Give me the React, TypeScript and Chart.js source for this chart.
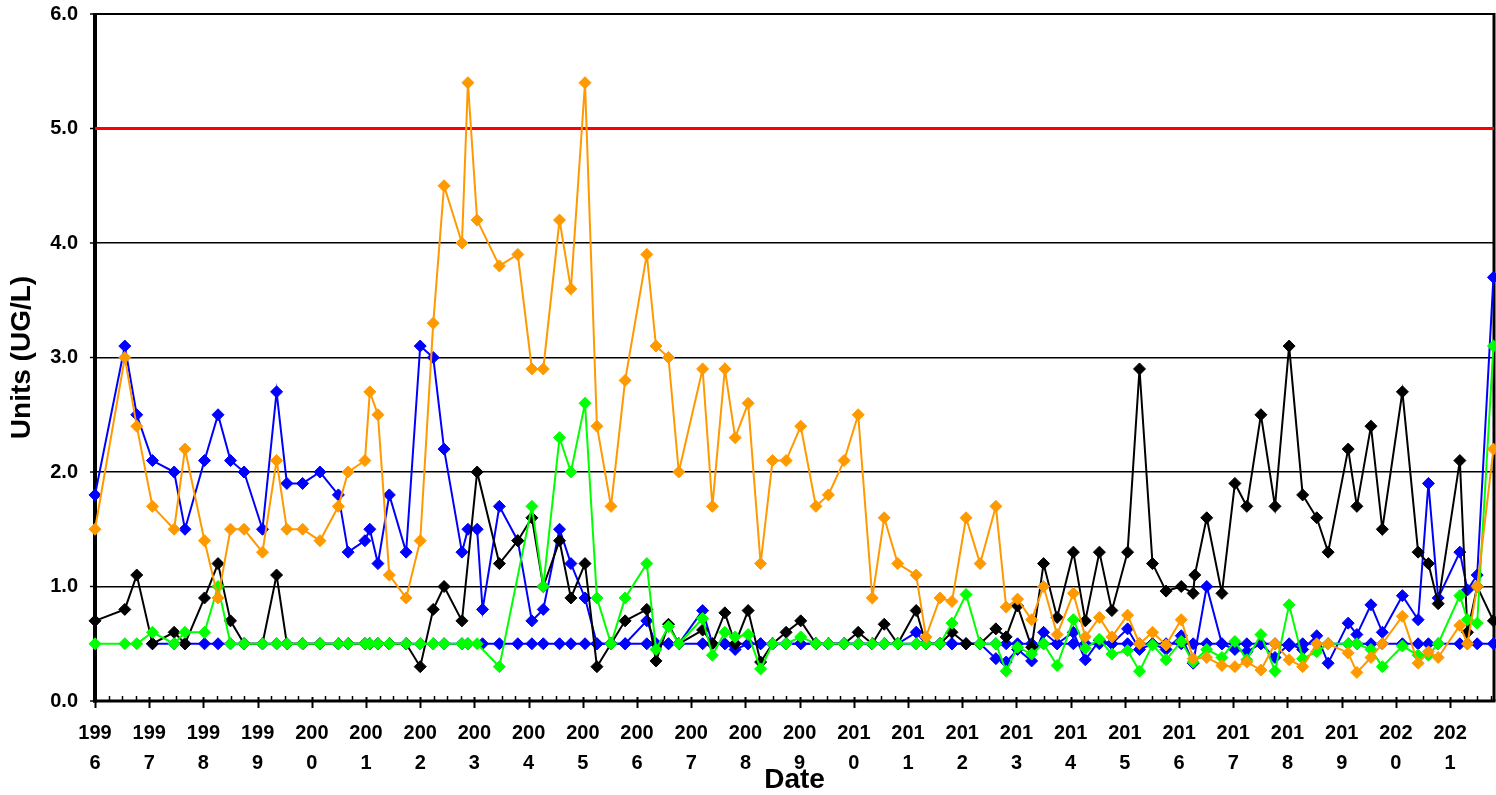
import React, { useEffect, useRef } from "react";
import { Chart, registerables } from "chart.js";

Chart.register(...registerables);

// Sample dates (decimal years)
const dates: number[] = [
  1996.0, 1996.55, 1996.77, 1997.06, 1997.46, 1997.66, 1998.02, 1998.27, 1998.5, 1998.75,
  1999.09, 1999.35, 1999.54, 1999.83, 2000.15, 2000.49, 2000.67, 2000.98, 2001.07, 2001.22,
  2001.43, 2001.74, 2002.0, 2002.24, 2002.44, 2002.77, 2002.88, 2003.05, 2003.15, 2003.46,
  2003.8, 2004.06, 2004.27, 2004.57, 2004.78, 2005.04, 2005.26, 2005.52, 2005.78, 2006.18,
  2006.35, 2006.58, 2006.77, 2007.21, 2007.39, 2007.62, 2007.81, 2008.05, 2008.28, 2008.5,
  2008.75, 2009.02, 2009.3, 2009.53, 2009.82, 2010.08, 2010.34, 2010.56, 2010.81, 2011.15,
  2011.33, 2011.59, 2011.81, 2012.07, 2012.33, 2012.62, 2012.81, 2013.02, 2013.28, 2013.5,
  2013.75, 2014.05, 2014.27, 2014.53, 2014.76, 2015.05, 2015.27, 2015.51, 2015.76, 2016.04,
  2016.26, 2016.29, 2016.51, 2016.79, 2017.03, 2017.25, 2017.51, 2017.77, 2018.03, 2018.28,
  2018.54, 2018.75, 2019.12, 2019.28, 2019.54, 2019.75, 2020.12, 2020.41, 2020.6, 2020.78,
  2021.18, 2021.32, 2021.5, 2021.8,
];

const blueA: (number | null)[] = [
  1.8, 3.1, 2.5, 2.1, 2.0, 1.5, 2.1, 2.5, 2.1, 2.0,
  1.5, 2.7, 1.9, 1.9, 2.0, 1.8, 1.3, 1.4, 1.5, 1.2,
  1.8, 1.3, 3.1, 3.0, 2.2, 1.3, 1.5, 1.5, 0.8, 1.7,
  1.4, 0.7, 0.8, 1.5, 1.2, 0.9, 0.5, 0.5, 0.5, 0.7,
  0.5, 0.5, 0.5, 0.79, 0.5, 0.5, 0.45, 0.5, 0.5, 0.5,
  0.5, 0.5, 0.5, 0.5, 0.5, 0.5, 0.5, 0.5, 0.5, 0.6,
  0.5, 0.5, 0.5, 0.5, 0.5, 0.37, 0.34, 0.45, 0.35, 0.6,
  0.5, 0.6, 0.36, 0.53, 0.5, 0.63, 0.45, 0.5, 0.45, 0.57,
  0.33, null, 1.0, 0.5, 0.45, 0.43, 0.5, 0.38, 0.5, 0.45,
  0.57, 0.33, 0.68, 0.58, 0.84, 0.6, 0.92, 0.71, 1.9, 0.9,
  1.3, 0.97, 1.1, 3.7,
];

const blueB: (number | null)[] = [
  null, null, null, 0.5, 0.5, 0.5, 0.5, 0.5, 0.5, 0.5,
  0.5, 0.5, 0.5, 0.5, 0.5, 0.5, 0.5, 0.5, 0.5, 0.5,
  0.5, 0.5, 0.5, 0.5, 0.5, 0.5, 0.5, null, 0.5, 0.5,
  0.5, 0.5, 0.5, 0.5, 0.5, 0.5, 0.5, 0.5, 0.5, 0.5,
  0.5, 0.5, 0.5, 0.5, 0.5, 0.5, 0.5, 0.5, 0.5, 0.5,
  0.5, 0.5, 0.5, 0.5, 0.5, 0.5, 0.5, 0.5, 0.5, 0.5,
  0.5, 0.5, 0.5, 0.5, 0.5, 0.5, 0.5, 0.5, 0.5, 0.5,
  0.5, 0.5, 0.5, 0.5, 0.5, 0.5, 0.5, 0.5, 0.5, 0.5,
  0.5, null, 0.5, 0.5, 0.5, 0.5, 0.5, 0.5, 0.48, 0.5,
  0.5, 0.5, 0.5, 0.5, 0.5, 0.5, 0.5, 0.5, 0.5, 0.5,
  0.5, 0.5, 0.5, 0.5,
];

const orange: (number | null)[] = [
  1.5, 3.0, 2.4, 1.7, 1.5, 2.2, 1.4, 0.9, 1.5, 1.5,
  1.3, 2.1, 1.5, 1.5, 1.4, 1.7, 2.0, 2.1, 2.7, 2.5,
  1.1, 0.9, 1.4, 3.3, 4.5, 4.0, 5.4, 4.2, null, 3.8,
  3.9, 2.9, 2.9, 4.2, 3.6, 5.4, 2.4, 1.7, 2.8, 3.9,
  3.1, 3.0, 2.0, 2.9, 1.7, 2.9, 2.3, 2.6, 1.2, 2.1,
  2.1, 2.4, 1.7, 1.8, 2.1, 2.5, 0.9, 1.6, 1.2, 1.1,
  0.56, 0.9, 0.87, 1.6, 1.2, 1.7, 0.82, 0.89, 0.71, 1.0,
  0.58, 0.94, 0.56, 0.73, 0.56, 0.75, 0.5, 0.6, 0.49, 0.71,
  0.37, null, 0.38, 0.31, 0.3, 0.34, 0.27, 0.5, 0.36, 0.3,
  0.5, 0.5, 0.42, 0.25, 0.38, 0.5, 0.74, 0.33, 0.43, 0.38,
  0.66, 0.5, 1.0, 2.2,
];

const black: (number | null)[] = [
  0.7, 0.8, 1.1, 0.5, 0.6, 0.5, 0.9, 1.2, 0.7, 0.5,
  0.5, 1.1, 0.5, 0.5, 0.5, 0.5, 0.5, 0.5, 0.5, 0.5,
  0.5, 0.5, 0.3, 0.8, 1.0, 0.7, null, 2.0, null, 1.2,
  1.4, 1.6, 1.0, 1.4, 0.9, 1.2, 0.3, 0.5, 0.7, 0.8,
  0.35, 0.67, 0.5, 0.62, 0.5, 0.77, 0.5, 0.79, 0.34, 0.5,
  0.6, 0.7, 0.5, 0.5, 0.5, 0.6, 0.5, 0.67, 0.5, 0.79,
  0.5, 0.5, 0.6, 0.5, 0.5, 0.63, 0.56, 0.83, 0.47, 1.2,
  0.73, 1.3, 0.7, 1.3, 0.79, 1.3, 2.9, 1.2, 0.96, 1.0,
  0.94, 1.1, 1.6, 0.94, 1.9, 1.7, 2.5, 1.7, 3.1, 1.8,
  1.6, 1.3, 2.2, 1.7, 2.4, 1.5, 2.7, 1.3, 1.2, 0.85,
  2.1, 0.6, 1.0, 0.7,
];

const green: (number | null)[] = [
  0.5, 0.5, 0.5, 0.6, 0.5, 0.6, 0.6, 1.0, 0.5, 0.5,
  0.5, 0.5, 0.5, 0.5, 0.5, 0.5, 0.5, 0.5, 0.5, 0.5,
  0.5, 0.5, 0.5, 0.5, 0.5, 0.5, 0.5, 0.5, null, 0.3,
  null, 1.7, 1.0, 2.3, 2.0, 2.6, 0.9, 0.5, 0.9, 1.2,
  0.45, 0.65, 0.5, 0.72, 0.4, 0.6, 0.56, 0.58, 0.28, 0.5,
  0.5, 0.56, 0.5, 0.5, 0.5, 0.5, 0.5, 0.5, 0.5, 0.5,
  0.5, 0.5, 0.68, 0.93, 0.5, 0.5, 0.26, 0.47, 0.41, 0.5,
  0.31, 0.71, 0.46, 0.54, 0.41, 0.44, 0.26, 0.49, 0.36, 0.52,
  0.34, null, 0.45, 0.38, 0.52, 0.36, 0.58, 0.26, 0.84, 0.37,
  0.43, 0.5, 0.5, 0.5, 0.45, 0.3, 0.48, 0.4, 0.4, 0.5,
  0.92, 0.71, 0.68, 3.1,
];

const limitValue = 5.0;
const xMin = 1996;
const xMax = 2021.81;
const yMin = 0;
const yMax = 6;

const FONT = "'Liberation Sans', Arial, Helvetica, sans-serif";

function pts(vals: (number | null)[]) {
  const out: { x: number; y: number }[] = [];
  vals.forEach((v, i) => {
    if (v !== null && v !== undefined) out.push({ x: dates[i], y: v });
  });
  return out;
}

const framePlugin = {
  id: "frame",
  beforeDatasetsDraw(chart: any) {
    const { ctx, chartArea } = chart;
    const { left, right, top, bottom } = chartArea;
    const xs = chart.scales.x;
    const ys = chart.scales.y;
    ctx.save();
    ctx.strokeStyle = "#000";
    // x ticks: quarterly minor, yearly major
    for (let q = xMin * 4; q <= xMax * 4; q++) {
      const px = Math.round(xs.getPixelForValue(q / 4)) + 0.5;
      ctx.beginPath();
      if (q % 4 === 0) {
        ctx.lineWidth = 2;
        ctx.moveTo(px, bottom - 4);
        ctx.lineTo(px, bottom + 7);
      } else {
        ctx.lineWidth = 1.5;
        ctx.moveTo(px, bottom - 5);
        ctx.lineTo(px, bottom);
      }
      ctx.stroke();
    }
    // y ticks outward
    for (let v = yMin; v <= yMax; v++) {
      const py = ys.getPixelForValue(v);
      ctx.beginPath();
      ctx.lineWidth = 1.5;
      ctx.moveTo(left - 5, py);
      ctx.lineTo(left, py);
      ctx.stroke();
    }
    // frame
    ctx.lineWidth = 2;
    ctx.beginPath();
    ctx.moveTo(left, top);
    ctx.lineTo(right, top);
    ctx.stroke();
    ctx.lineWidth = 3;
    ctx.beginPath();
    ctx.moveTo(right, top - 1);
    ctx.lineTo(right, bottom);
    ctx.stroke();
    ctx.beginPath();
    ctx.moveTo(left - 2, bottom);
    ctx.lineTo(right + 1.5, bottom);
    ctx.stroke();
    ctx.lineWidth = 4;
    ctx.beginPath();
    ctx.moveTo(left, top - 1);
    ctx.lineTo(left, bottom + 1.5);
    ctx.stroke();
    ctx.restore();
  },
};

function series(label: string, color: string, vals: (number | null)[]) {
  return {
    label,
    data: pts(vals),
    borderColor: color,
    backgroundColor: color,
    borderWidth: 2,
    pointStyle: "rectRot",
    pointRadius: 6,
    pointBorderWidth: 1,
    pointBorderColor: color,
    pointBackgroundColor: color,
    clip: false,
    tension: 0,
  };
}

export default function App() {
  const canvasRef = useRef<HTMLCanvasElement | null>(null);

  useEffect(() => {
    if (!canvasRef.current) return;
    const chart = new Chart(canvasRef.current, {
      type: "line",
      data: {
        datasets: [
          series("Orange", "#FF9900", orange),
          series("Green", "#00FF00", green),
          series("Black", "#000000", black),
          series("Blue A", "#0000FF", blueA),
          series("Blue B", "#0000FF", blueB),
          {
            label: "Limit",
            data: [
              { x: xMin, y: limitValue },
              { x: xMax, y: limitValue },
            ],
            borderColor: "#FF0000",
            backgroundColor: "#FF0000",
            borderWidth: 3,
            pointRadius: 0,
            clip: false,
          } as any,
        ],
      },
      options: {
        animation: false,
        responsive: false,
        maintainAspectRatio: false,
        devicePixelRatio: 1,
        layout: { autoPadding: false, padding: { left: 0, top: 14, right: 2, bottom: 0 } },
        plugins: {
          legend: { display: false },
          tooltip: { enabled: false },
        },
        scales: {
          x: {
            type: "linear",
            min: xMin,
            max: xMax,
            afterFit: (s: any) => {
              s.height = 94;
              s.paddingLeft = 0;
              s.paddingRight = 0;
            },
            grid: { display: false, drawTicks: false },
            border: { display: false },
            ticks: {
              stepSize: 1,
              includeBounds: false,
              autoSkip: false,
              maxRotation: 0,
              minRotation: 0,
              padding: 17,
              color: "#000",
              font: { family: FONT, size: 20, weight: "bold", lineHeight: 1.5 },
              callback: (v: any) => {
                const n = Number(v);
                if (Math.abs(n - Math.round(n)) > 1e-6) return "";
                const s = String(Math.round(n));
                return [s.slice(0, 3), s.slice(3)];
              },
            },
            title: {
              display: true,
              text: "Date",
              color: "#000",
              font: { family: FONT, size: 28, weight: "bold", lineHeight: 1 },
              padding: { top: 0, bottom: 1 },
            },
          },
          y: {
            type: "linear",
            min: yMin,
            max: yMax,
            afterFit: (s: any) => {
              s.width = 95;
              s.paddingTop = 0;
              s.paddingBottom = 0;
            },
            grid: {
              drawTicks: false,
              lineWidth: 1.5,
              color: (c: any) => {
                const v = c.tick ? c.tick.value : -1;
                return v >= 1 && v <= 4 ? "#000" : "rgba(0,0,0,0)";
              },
            },
            border: { display: false },
            ticks: {
              stepSize: 1,
              padding: 17,
              color: "#000",
              font: { family: FONT, size: 20, weight: "bold" },
              callback: (v: any) => Number(v).toFixed(1),
            },
            title: {
              display: true,
              text: "Units (UG/L)",
              color: "#000",
              font: { family: FONT, size: 28, weight: "bold", lineHeight: 1.2 },
              padding: { top: 5, bottom: 0 },
            },
          },
        },
      },
      plugins: [framePlugin],
    } as any);
    return () => chart.destroy();
  }, []);

  return (
    <div style={{ position: "absolute", left: 0, top: 0, width: 1496, height: 795, background: "#fff" }}>
      <canvas ref={canvasRef} width={1496} height={795} style={{ display: "block", width: 1496, height: 795 }} />
    </div>
  );
}
